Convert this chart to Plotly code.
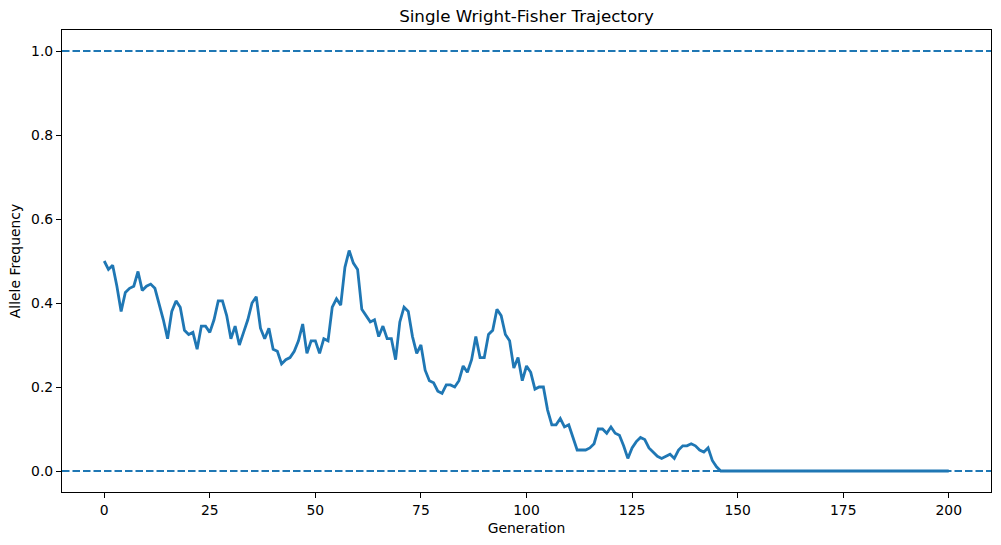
import plotly.graph_objects as go

# --- data: allele frequency per generation ---
generations = list(range(0, 201))

freq_early = [
    0.50, 0.48, 0.49, 0.44, 0.38, 0.425, 0.435, 0.44, 0.475, 0.43,
    0.44, 0.445, 0.435, 0.40, 0.36, 0.315, 0.38, 0.405, 0.39, 0.335,
    0.325, 0.33, 0.29, 0.345, 0.345, 0.33, 0.36, 0.405, 0.405, 0.37,
    0.315, 0.345, 0.30, 0.33, 0.36, 0.40, 0.415, 0.34, 0.315, 0.34,
    0.29, 0.285, 0.255, 0.265, 0.27, 0.285, 0.31, 0.35, 0.28, 0.31,
]
freq_mid = [
    0.31, 0.28, 0.315, 0.31, 0.39, 0.41, 0.395, 0.485, 0.525, 0.495,
    0.48, 0.385, 0.37, 0.355, 0.36, 0.32, 0.345, 0.315, 0.315, 0.265,
    0.355, 0.39, 0.38, 0.32, 0.28, 0.30, 0.24, 0.215, 0.21, 0.19,
    0.185, 0.205, 0.205, 0.20, 0.215, 0.25, 0.235, 0.265, 0.32, 0.27,
    0.27, 0.325, 0.335, 0.385, 0.37, 0.325, 0.31, 0.245, 0.27, 0.215,
]
freq_late = [
    0.25, 0.235, 0.195, 0.20, 0.20, 0.145, 0.11, 0.11, 0.125, 0.105,
    0.11, 0.08, 0.05, 0.05, 0.05, 0.055, 0.065, 0.10, 0.10, 0.09,
    0.105, 0.09, 0.085, 0.06, 0.03, 0.055, 0.07, 0.08, 0.075, 0.055,
    0.045, 0.035, 0.03, 0.035, 0.04, 0.03, 0.05, 0.06, 0.06, 0.065,
    0.06, 0.05, 0.045, 0.055, 0.025, 0.01,
]
# lost at generation 146, stays at zero to the end
freq_lost = [0.0] * 55

frequency = freq_early + freq_mid + freq_late + freq_lost

boundaries = [0.0, 1.0]
x_ticks = [0, 25, 50, 75, 100, 125, 150, 175, 200]
y_ticks = [0.0, 0.2, 0.4, 0.6, 0.8, 1.0]

blue = '#1f77b4'
font_family = 'DejaVu Sans'

fig = go.Figure()

fig.add_trace(go.Scatter(
    x=generations, y=frequency,
    mode='lines', line=dict(color=blue, width=2.8),
    showlegend=False))

# fixation / loss boundaries
for b in boundaries:
    fig.add_hline(y=b, line_dash='7.5px,3px', line_color=blue, line_width=2.1)

axis_style = dict(
    showgrid=False, zeroline=False,
    showline=True, mirror=True, linecolor='black', linewidth=1.1,
    ticks='outside', ticklen=5, tickwidth=1.1, tickcolor='black',
    tickfont=dict(family=font_family, size=13.9, color='black'),
)

fig.update_layout(
    width=1001, height=545,
    margin=dict(l=62, r=10, t=30, b=53),
    plot_bgcolor='white', paper_bgcolor='white',
    font=dict(family=font_family, color='black'),
    title=dict(text='Single Wright-Fisher Trajectory',
               x=0.5, xref='paper', xanchor='center',
               y=1 - 16.5 / 545, yref='container', yanchor='middle',
               font=dict(size=16.7, family=font_family, color='black')),
    xaxis=dict(range=[-10, 210], tickvals=x_ticks,
               title=dict(text='Generation', standoff=6,
                          font=dict(size=13.9, family=font_family)),
               **axis_style),
    yaxis=dict(range=[-0.05, 1.05], tickvals=y_ticks, tickformat='.1f',
               title=dict(text='Allele Frequency', standoff=7,
                          font=dict(size=13.9, family=font_family)),
               **axis_style),
)

# drop the default page margin so the figure sits at the window's corner
fig.write_html("out.html", config={'displayModeBar': False},
               post_script="document.body.style.margin = '0';")
